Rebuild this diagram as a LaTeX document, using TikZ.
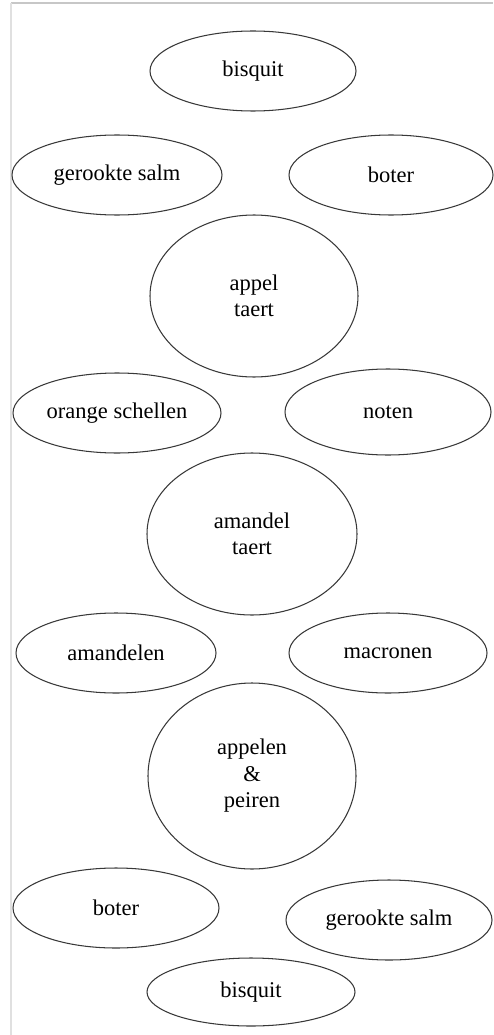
\documentclass[tikz,border=0pt]{standalone}
\usepackage{fontspec}
\setmainfont{Liberation Serif}
\usetikzlibrary{shapes.geometric}

\tikzset{
  item/.style={ellipse, draw=black!78, line width=1.05pt, inner sep=0pt,
    align=center, font=\fontsize{22.5}{26.5}\selectfont, text=black},
  frameline/.style={line width=2pt}
}

\begin{document}
\begin{tikzpicture}[x=1pt, y=-1pt]
  \useasboundingbox[fill=white] (0,0) rectangle (493,1035);

  % page frame (top and left edges)
  \coordinate (fTL) at (11,3);
  \coordinate (fTR) at (493,3);
  \coordinate (fBL) at (11,1035);
  \draw[frameline, draw=black!22] (fTL) -- (fTR);
  \draw[frameline, draw=black!12] (fTL) -- (fBL);

  % ingredients and pies
  \node[item, minimum width=206pt, minimum height=80pt]  (bisquitA) at (253,71)  {bisquit};
  \node[item, minimum width=210pt, minimum height=80pt]  (salmA)    at (117,175) {gerookte salm};
  \node[item, minimum width=204pt, minimum height=80pt]  (boterA)   at (391,175) {boter};
  \node[item, minimum width=208pt, minimum height=162pt] (appel)    at (254,296) {appel\\taert};
  \node[item, minimum width=208pt, minimum height=80pt]  (orange)   at (117,413) {orange schellen};
  \node[item, minimum width=206pt, minimum height=86pt]  (noten)    at (388,412) {noten};
  \node[item, minimum width=210pt, minimum height=162pt] (amandel)  at (252,534) {amandel\\taert};
  \node[item, minimum width=200pt, minimum height=80pt]  (amandelen) at (116,653) {amandelen};
  \node[item, minimum width=198pt, minimum height=80pt]  (macronen) at (388,653) {macronen};
  \node[item, minimum width=208pt, minimum height=186pt] (peiren)   at (252,776) {appelen\\\&\\peiren};
  \node[item, minimum width=206pt, minimum height=80pt]  (boterB)   at (116,908) {boter};
  \node[item, minimum width=206pt, minimum height=80pt]  (salmB)    at (389,920) {gerookte salm};
  \node[item, minimum width=208pt, minimum height=68pt]  (bisquitB) at (251,992) {bisquit};
\end{tikzpicture}
\end{document}
